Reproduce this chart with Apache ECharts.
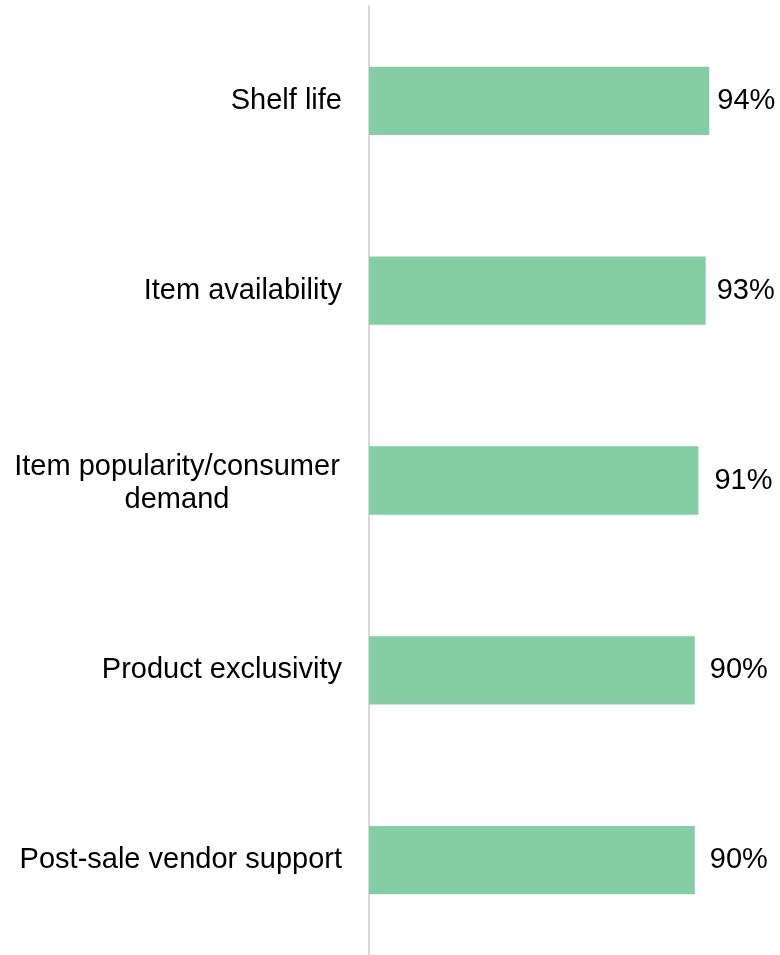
<!DOCTYPE html>
<html>
<head>
<meta charset="utf-8">
<script src="https://cdn.jsdelivr.net/npm/echarts@6/dist/echarts.min.js"></script>
<style>
  html, body { margin: 0; padding: 0; background: #fff; }
  #chart { width: 780px; height: 955px; }
</style>
</head>
<body>
<div id="chart"></div>
<script>
// Share of respondents rating each factor as important
const categories = [
  'Shelf life',
  'Item availability',
  'Item popularity/consumer\ndemand',
  'Product exclusivity',
  'Post-sale vendor support'
];
const values = [94, 93, 91, 90, 90];

// gap between each bar end and its value label (px)
const labelGaps = [8, 11, 16, 15, 15];

const FONT = 'Liberation Sans, Arial, sans-serif';

const chart = echarts.init(document.getElementById('chart'), null, { renderer: 'canvas' });

chart.setOption({
  animation: false,
  backgroundColor: '#ffffff',
  grid: { left: 369, right: 49, top: 6, bottom: -6, containLabel: false },
  xAxis: {
    type: 'value',
    min: 0,
    max: 100,
    show: false
  },
  yAxis: {
    type: 'category',
    inverse: true,
    data: categories,
    axisLine: { show: true, lineStyle: { color: '#d9d9d9', width: 2 } },
    axisTick: { show: false },
    splitLine: { show: false },
    axisLabel: {
      margin: 27,
      fontFamily: FONT,
      fontSize: 29,
      color: '#000',
      lineHeight: 33,
      formatter: function (v) {
        if (v.indexOf('\n') >= 0) {
          // wrapped labels: lines centred on each other
          return v.split('\n').map(function (s) { return '{c|' + s + '}'; }).join('\n');
        }
        return v;
      },
      rich: {
        c: {
          width: 330,
          align: 'center',
          padding: [6, 0, 0, 0],
          fontFamily: FONT,
          fontSize: 29,
          lineHeight: 33,
          color: '#000'
        }
      }
    }
  },
  series: [{
    type: 'bar',
    data: values.map(function (v, i) {
      return { value: v, label: { distance: labelGaps[i] } };
    }),
    barCategoryGap: '64%',
    itemStyle: { color: '#85cda4' },
    label: {
      show: true,
      position: 'right',
      formatter: '{c}%',
      fontFamily: FONT,
      fontSize: 29,
      color: '#000'
    }
  }]
});
</script>
</body>
</html>
